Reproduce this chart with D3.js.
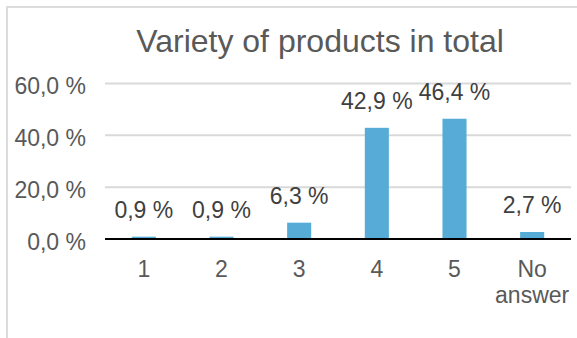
<!DOCTYPE html>
<html>
<head>
<meta charset="utf-8">
<script src="https://cdn.jsdelivr.net/npm/d3@7"></script>
<style>
  html, body { margin: 0; padding: 0; background: #fff; }
  svg { display: block; font-family: "Liberation Sans", Arial, Helvetica, sans-serif; }
</style>
</head>
<body>
<svg id="chart" width="577" height="338"></svg>
<script>
// Share of answers per rating
const categories = ["1", "2", "3", "4", "5", "No answer"];
const values = [0.9, 0.9, 6.3, 42.9, 46.4, 2.7];
const yTicks = [0, 20, 40, 60];
const title = "Variety of products in total";

const svg = d3.select("#chart");
const W = 577, H = 338;
const plot = { left: 105, right: 571, top: 83.5, bottom: 239 };

const fmt = v => d3.format(".1f")(v).replace(".", ",") + " %";

// Chart frame
svg.append("path")
  .attr("d", `M7,${H} V7 H${W}`)
  .attr("fill", "none")
  .attr("stroke", "#dcdcdc")
  .attr("stroke-width", 2);

// Title
svg.append("text")
  .attr("x", 320).attr("y", 52)
  .attr("text-anchor", "middle")
  .attr("font-size", 32)
  .attr("fill", "#595959")
  .text(title);

const x = d3.scaleBand()
  .domain(categories)
  .range([plot.left, plot.right])
  .paddingInner(0.69)
  .paddingOuter(0.345);

const y = d3.scaleLinear()
  .domain([0, 60])
  .range([plot.bottom, plot.top]);

// Gridlines
svg.append("g")
  .selectAll("line")
  .data(yTicks.filter(t => t > 0))
  .join("line")
  .attr("x1", plot.left).attr("x2", plot.right)
  .attr("y1", d => y(d)).attr("y2", d => y(d))
  .attr("stroke", "#d9d9d9")
  .attr("stroke-width", 2);

// Y axis labels
const yAxis = d3.axisLeft(y).tickValues(yTicks).tickSize(0).tickPadding(19).tickFormat(fmt);
const gy = svg.append("g").attr("transform", `translate(${plot.left},0)`).call(yAxis);
gy.select(".domain").remove();
gy.selectAll("text")
  .attr("font-size", 23)
  .attr("font-family", "\"Liberation Sans\", Arial, sans-serif")
  .attr("fill", "#595959")
  .attr("dy", "0.62em")
  .attr("y", -4);

// Bars
svg.append("g")
  .selectAll("rect")
  .data(values)
  .join("rect")
  .attr("x", (d, i) => x(categories[i]))
  .attr("width", x.bandwidth())
  .attr("y", d => y(d))
  .attr("height", d => y(0) - y(d))
  .attr("fill", "#56acd6");

// Value labels
svg.append("g")
  .selectAll("text")
  .data(values)
  .join("text")
  .attr("x", (d, i) => x(categories[i]) + x.bandwidth() / 2)
  .attr("y", d => y(d) - 19)
  .attr("text-anchor", "middle")
  .attr("font-size", 23)
  .attr("fill", "#404040")
  .text(d => fmt(d));

// Baseline
svg.append("line")
  .attr("x1", plot.left).attr("x2", plot.right)
  .attr("y1", y(0)).attr("y2", y(0))
  .attr("stroke", "#000")
  .attr("stroke-width", 2);

// Category labels (wrapped on spaces)
const xl = svg.append("g")
  .selectAll("text")
  .data(categories)
  .join("text")
  .attr("x", d => x(d) + x.bandwidth() / 2)
  .attr("y", 277)
  .attr("text-anchor", "middle")
  .attr("font-size", 23)
  .attr("fill", "#595959");
xl.each(function(d) {
  const t = d3.select(this);
  d.split(" ").forEach((w, i) => {
    t.append("tspan")
      .attr("x", x(d) + x.bandwidth() / 2)
      .attr("dy", i === 0 ? 0 : 26)
      .text(w);
  });
});
</script>
</body>
</html>
